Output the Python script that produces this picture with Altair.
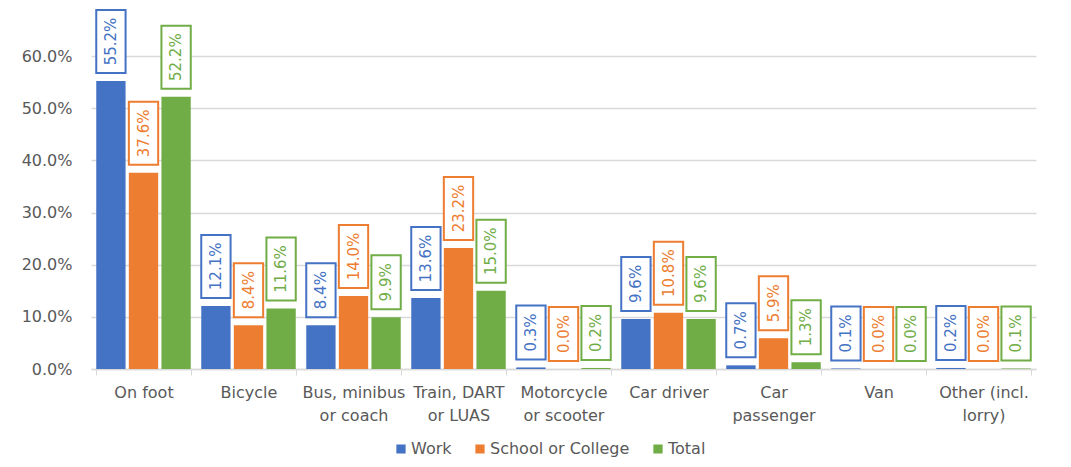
import altair as alt
import pandas as pd

categories = ["On foot", "Bicycle", "Bus, minibus\nor coach", "Train, DART\nor LUAS",
              "Motorcycle\nor scooter", "Car driver", "Car\npassenger", "Van", "Other (incl.\nlorry)"]
series = ["Work", "School or College", "Total"]
work = [55.2, 12.1, 8.4, 13.6, 0.3, 9.6, 0.7, 0.1, 0.2]
school = [37.6, 8.4, 14.0, 23.2, 0.0, 10.8, 5.9, 0.0, 0.0]
total = [52.2, 11.6, 9.9, 15.0, 0.2, 9.6, 1.3, 0.0, 0.1]
colors = ["#4472C4", "#ED7D31", "#70AD47"]
y_ticks = [0, 10, 20, 30, 40, 50, 60]

rows = []
for s, vals in zip(series, [work, school, total]):
    for c, v in zip(categories, vals):
        rows.append({"cat": c, "series": s, "value": v})
df = pd.DataFrame(rows)

W, H, YMAX = 945, 313, 60
ppu = H / YMAX
FONT = "DejaVu Sans"
GREY = "#595959"

x = alt.X("cat:N", sort=categories,
          scale=alt.Scale(paddingInner=0.1, paddingOuter=0.05),
          axis=alt.Axis(title=None, labelAngle=0, labelExpr="split(datum.label, '\\n')",
                        labelFont=FONT, labelFontSize=16, labelColor=GREY, labelPadding=9,
                        labelLineHeight=23, tickBand="extent", tickColor="#D9D9D9", tickSize=6,
                        domainColor="#D9D9D9", domainWidth=1.5, grid=False))
xo = alt.XOffset("series:N", sort=series, scale=alt.Scale(paddingInner=0.1, paddingOuter=0))
yaxis = alt.Axis(title=None, values=y_ticks, labelExpr="format(datum.value, '.1f') + '%'",
                 domain=False, ticks=False, tickSize=0, labelPadding=19, gridColor="#D9D9D9",
                 gridWidth=1.5, labelFont=FONT, labelFontSize=16, labelColor=GREY)
yscale = alt.Scale(domain=[0, YMAX], nice=False)

base = alt.Chart(df).transform_calculate(
    label="format(datum.value, '.1f') + '%'"
).transform_calculate(
    lo=f"datum.value + {8 / ppu}",
).transform_calculate(
    hi=f"datum.lo + (9 * length(datum.label) + 18) / {ppu}",
    mid="(datum.lo + datum.hi) / 2",
)

bars = base.mark_bar(clip=False).encode(
    x=x, xOffset=xo,
    y=alt.Y("value:Q", scale=yscale, axis=yaxis),
    color=alt.Color("series:N", sort=series, scale=alt.Scale(domain=series, range=colors),
                    legend=alt.Legend(title=None, orient="none", legendX=302, legendY=385,
                                      direction="horizontal", symbolType="square", symbolSize=60,
                                      labelFont=FONT, labelFontSize=16, labelColor=GREY,
                                      columnPadding=20, labelOffset=2, padding=0)),
)

boxes = base.mark_rect(fill="white", strokeWidth=2, clip=False).encode(
    x=x, xOffset=xo,
    y=alt.Y("lo:Q", scale=yscale, axis=yaxis),
    y2="hi:Q",
    stroke=alt.Stroke("series:N", scale=alt.Scale(domain=series, range=colors), legend=None),
)

texts = base.mark_text(angle=270, align="center", baseline="middle", font=FONT,
                       fontSize=15, clip=False).encode(
    x=x, xOffset=xo,
    y=alt.Y("mid:Q", scale=yscale, axis=yaxis),
    text="label:N",
    fill=alt.Fill("series:N", scale=alt.Scale(domain=series, range=colors), legend=None),
)

chart = alt.layer(bars, boxes, texts).resolve_scale(x="shared").properties(
    width=W, height=H,
    autosize=alt.AutoSizeParams(type="none"),
    padding={"left": 83, "top": 48, "right": 27, "bottom": 88},
).configure_view(stroke=None)

chart.save("out.html", embed_options={"renderer": "svg", "actions": False})
